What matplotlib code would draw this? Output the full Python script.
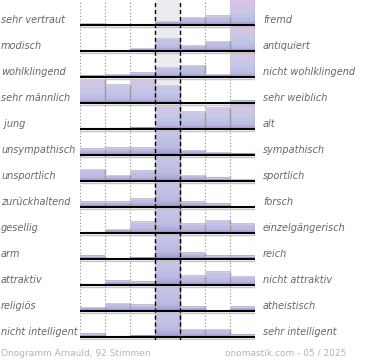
import numpy as np
import matplotlib
matplotlib.use("Agg")
import matplotlib.pyplot as plt
from matplotlib.colors import LinearSegmentedColormap
from matplotlib.transforms import blended_transform_factory

# %% data (bar height relative to the row height, 7 answer positions)
links = ["sehr vertraut", "modisch", "wohlklingend", "sehr männlich", " jung",
         "unsympathisch", "unsportlich", "zurückhaltend", "gesellig", "arm",
         "attraktiv", "religiös", "nicht intelligent"]
rechts = ["fremd", "antiquiert", "nicht wohlklingend", "sehr weiblich", "alt",
          "sympathisch", "sportlich", "forsch", "einzelgängerisch", "reich",
          "nicht attraktiv", "atheistisch", "sehr intelligent"]

pos1 = [0.06, 0, 0.04, 0.91, 0, 0.25, 0.45, 0.20, 0, 0.12, 0, 0.14, 0.13]
pos2 = [0, 0, 0.11, 0.70, 0, 0.27, 0.22, 0.20, 0.14, 0, 0.17, 0.30, 0]
pos3 = [0, 0.10, 0.17, 0.85, 0.04, 0.27, 0.40, 0.32, 0.43, 0.04, 0.13, 0.24, 0.04]
neutral = [0.14, 0.49, 0.37, 0.68, 0.88, 2.0, 2.0, 2.0, 2.0, 2.0, 2.0, 2.0, 2.0]
pos5 = [0.30, 0.23, 0.45, 0, 0.67, 0.19, 0.22, 0.20, 0.35, 0.24, 0.36, 0.17, 0.30]
pos6 = [0.36, 0.37, 0.10, 0, 0.81, 0.10, 0.13, 0.13, 0.49, 0.12, 0.51, 0, 0.30]
pos7 = [1.0, 1.0, 1.0, 0.09, 1.0, 0.05, 0.06, 0, 0.35, 0.12, 0.33, 0.17, 0.09]

fusszeile_links = "Onogramm Arnauld, 92 Stimmen"
fusszeile_rechts = "onomastik.com - 05 / 2025"

# %% plot
W, H = 370, 360
fig = plt.figure(figsize=(W / 100, H / 100), dpi=100)
ax = fig.add_axes([80 / W, 20 / H, 175 / W, 340 / H])
ax.axis("off")

cmap = LinearSegmentedColormap.from_list(
    "ono", [(0, "#958dc2"), (0.05, "#aca6d6"), (0.15, "#bcbbe2"),
            (0.45, "#c5c8e8"), (0.72, "#d1c6e6"), (1.0, "#dcc3e6")])

spalten = [pos1, pos2, pos3, neutral, pos5, pos6, pos7]
n = len(links)

ax.axvspan(3, 4, color="#ececf0", zorder=0)

for i in range(n):
    base = i + 1
    for j, col in enumerate(spalten):
        v = col[i]
        if v <= 0:
            continue
        vis = min(v, 1.0)
        grad = (np.linspace(0, vis, 64) / max(v, 1.0))[:, None]
        ax.imshow(grad, cmap=cmap, vmin=0, vmax=1, aspect="auto",
                  origin="lower", extent=[j, j + 1, base, base - vis],
                  interpolation="bilinear", zorder=2)
        ax.plot([j + 1, j + 1], [base, base - vis], color="#9a9a9a", lw=1, zorder=3)
        ax.plot([j, j + 1], [base - vis, base - vis], color="#cfcfd8", lw=0.6, zorder=3)
    ax.plot([0, 7], [base + 0.07, base + 0.07], color="#c4c4c4", lw=1, zorder=3)
    ax.plot([0, 7], [base, base], color="black", lw=1.5, zorder=4)

for x in [0, 1, 2, 5, 6, 7]:
    ax.axvline(x, color="#8a8a8a", lw=0.8, ls=(0, (1, 2)), zorder=1)
for x in [3, 4]:
    ax.axvline(x, color="black", lw=1, ls=(0, (3, 2)), zorder=5)

ax.set_xlim(0, 7)
ax.set_ylim(341 / 26, 1 / 26)

tr = blended_transform_factory(fig.transFigure, ax.transData)
for i in range(n):
    y = i + 1 - 5 / 26
    ax.text(1 / W, y, links[i], transform=tr, ha="left", va="center",
            fontsize=7, style="italic", color="#666666")
    ax.text(263 / W, y, rechts[i], transform=tr, ha="left", va="center",
            fontsize=7, style="italic", color="#666666")

fig.text(1 / W, 1 - 353 / H, fusszeile_links, ha="left", va="center",
         fontsize=6.5, color="#b4b4b4")
fig.text(346 / W, 1 - 353 / H, fusszeile_rechts, ha="right", va="center",
         fontsize=6.5, color="#b4b4b4")

fig.savefig("out.png", dpi=100)
